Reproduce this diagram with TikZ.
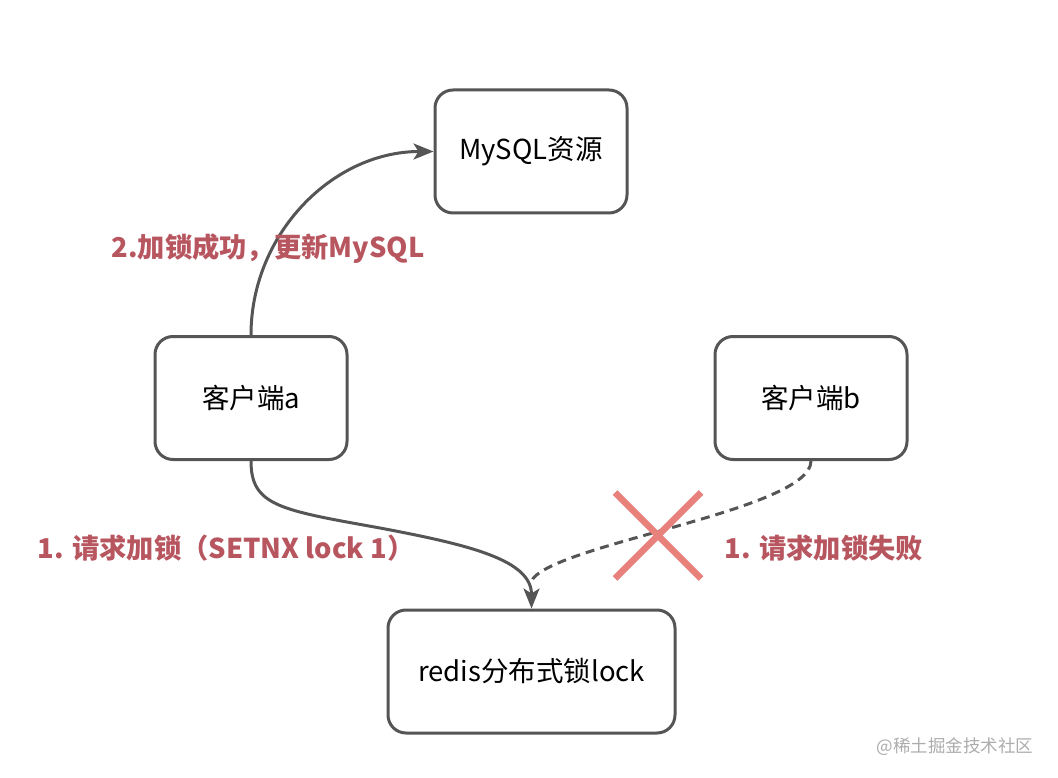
\documentclass[tikz,border=0pt]{standalone}
\usepackage{fontspec}
\setmainfont{Noto Sans CJK SC}
\usetikzlibrary{arrows.meta}

\definecolor{labelred}{RGB}{184,86,96}
\definecolor{crossred}{RGB}{232,128,124}
\definecolor{edgegray}{RGB}{85,85,85}

\tikzset{
  box/.style={draw=edgegray, line width=3pt, rounded corners=18pt,
    minimum width=192pt, minimum height=123pt, font=\fontsize{27.5}{32}\selectfont},
  steplabel/.style={text=labelred, font=\bfseries\fontsize{27.3}{32}\selectfont},
  link/.style={draw=edgegray, line width=3pt, -{Stealth[length=20pt,width=16pt,inset=5pt]}},
}

\begin{document}
\begin{tikzpicture}[x=1pt,y=-1pt] %pixel coordinates, y downwards
  \useasboundingbox (0,0) rectangle (1058,778);

  % Boxes
  \node[box] (mysql) at (531,151.5) {MySQL资源};
  \node[box] (clienta) at (251,398) {客户端a};
  \node[box] (clientb) at (811,398) {客户端b};
  \node[box, minimum width=287pt] (redis) at (531.5,671.5) {redis分布式锁lock};

  % Client a locks redis, then updates MySQL
  \draw[link] (clienta.north) to[out=90,in=180] (mysql.west);
  \draw[link] (clienta.south) .. controls +(0,45) and (280,510) .. (380,528)
    .. controls (470,545) and (531.5,560) .. (redis.north);

  % Client b fails
  \coordinate (dashend) at (531,582);
  \draw[edgegray, line width=3pt, dash pattern=on 9pt off 6pt]
    (clientb.south) .. controls +(0,50) and (545,545) .. (dashend);

  % Cross over the failed request
  \coordinate (cross) at (658,535.5);
  \draw[crossred, line width=6.5pt] ([shift={(-43,-43)}]cross) -- ([shift={(43,43)}]cross);
  \draw[crossred, line width=6.5pt] ([shift={(43,-43)}]cross) -- ([shift={(-43,43)}]cross);

  % Labels
  \node[steplabel] (lblupdate) at (268,249) {2.加锁成功，更新MySQL};
  \node[steplabel] (lbllock) at (226,548) {1. 请求加锁（SETNX lock 1）};
  \node[steplabel] (lblfail) at (824,548) {1. 请求加锁失败};

  % Watermark
  \node[text=gray!65, font=\fontsize{17.5}{20}\selectfont] (mark) at (955,747) {@稀土掘金技术社区};

\end{tikzpicture}
\end{document}
